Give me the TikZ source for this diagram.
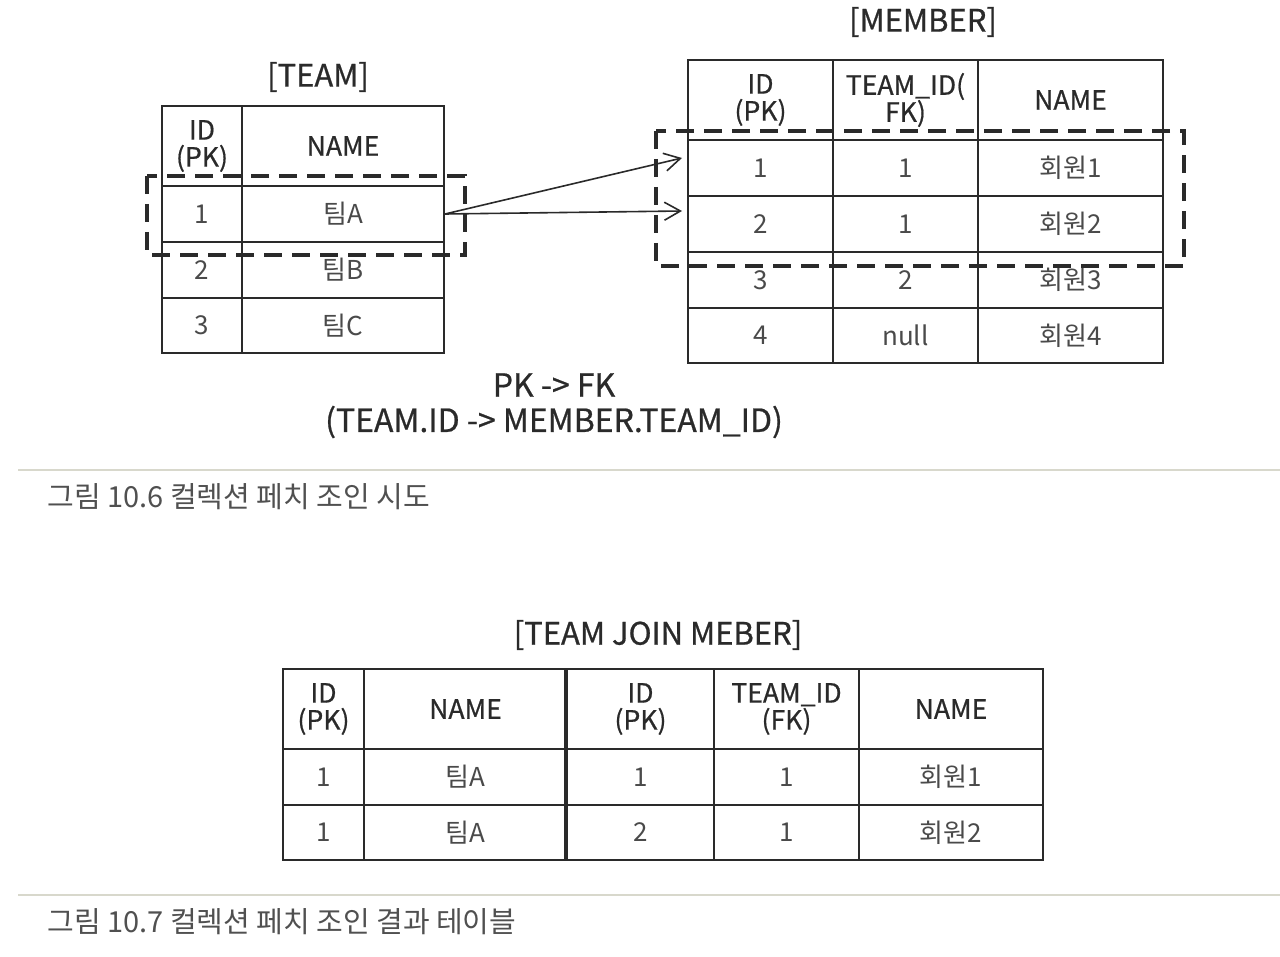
\documentclass[tikz,border=0pt]{standalone}
\usepackage{fontspec}
\setmainfont{Noto Sans CJK KR}
\newfontfamily\hfont{Noto Sans CJK KR}[UprightFeatures={FakeBold=0.7}]
\usetikzlibrary{arrows.meta,calc}
\definecolor{ink}{HTML}{2A2A2A}
\definecolor{val}{HTML}{4A4A4A}
\definecolor{rulec}{HTML}{D8D8CC}
\definecolor{capc}{HTML}{505050}
\begin{document}
\begin{tikzpicture}[x=0.5pt,y=-0.5pt,
 tcell/.style={draw=ink,line width=1pt,inner sep=0pt,align=center,text=val,font=\fontsize{13}{14}\selectfont},
 thdr/.style={tcell,text=ink,font=\hfont\fontsize{13.3}{13.5}\selectfont},
 ttitle/.style={text=ink,font=\hfont\fontsize{15.5}{17}\selectfont,inner sep=0pt},
 dashbox/.style={draw=ink,line width=2pt,dash pattern=on 9pt off 5pt},
 link/.style={draw=ink,line width=0.8pt,-{Straight Barb[length=8pt,width=9pt]}},
 capt/.style={anchor=west,text=capc,font=\fontsize{14.5}{16}\selectfont,inner sep=0pt},
 seprule/.style={draw=rulec,line width=0.8pt}]
\useasboundingbox (0,0) rectangle (1280,957);

% ---------- TEAM ----------
\node[ttitle] (tteam) at (318,77) {[TEAM]};
\node[thdr,minimum width=40pt,minimum height=40pt] (tid) at (202,146) {ID\\(PK)};
\node[thdr,minimum width=101pt,minimum height=40pt] (tname) at (343,146) {NAME};
\node[tcell,minimum width=40pt,minimum height=28pt] (t1id) at (202,214) {1};
\node[tcell,minimum width=101pt,minimum height=28pt] (t1name) at (343,214) {팀A};
\node[tcell,minimum width=40pt,minimum height=28pt] (t2id) at (202,270) {2};
\node[tcell,minimum width=101pt,minimum height=28pt] (t2name) at (343,270) {팀B};
\node[tcell,minimum width=40pt,minimum height=27.5pt] (t3id) at (202,325.5) {3};
\node[tcell,minimum width=101pt,minimum height=27.5pt] (t3name) at (343,325.5) {팀C};

% ---------- MEMBER ----------
\node[ttitle] (tmember) at (923,22) {[MEMBER]};
\node[thdr,minimum width=72.5pt,minimum height=40pt] (mid) at (760.5,100) {ID\\(PK)};
\node[thdr,minimum width=72.5pt,minimum height=40pt] (mtid) at (905.5,100) {TEAM\_ID(\\FK)};
\node[thdr,minimum width=92.5pt,minimum height=40pt] (mname) at (1070.5,100) {NAME};
\node[tcell,minimum width=72.5pt,minimum height=28pt] (m1id) at (760.5,168) {1};
\node[tcell,minimum width=72.5pt,minimum height=28pt] (m1t) at (905.5,168) {1};
\node[tcell,minimum width=92.5pt,minimum height=28pt] (m1n) at (1070.5,168) {회원1};
\node[tcell,minimum width=72.5pt,minimum height=28pt] (m2id) at (760.5,224) {2};
\node[tcell,minimum width=72.5pt,minimum height=28pt] (m2t) at (905.5,224) {1};
\node[tcell,minimum width=92.5pt,minimum height=28pt] (m2n) at (1070.5,224) {회원2};
\node[tcell,minimum width=72.5pt,minimum height=28pt] (m3id) at (760.5,280) {3};
\node[tcell,minimum width=72.5pt,minimum height=28pt] (m3t) at (905.5,280) {2};
\node[tcell,minimum width=92.5pt,minimum height=28pt] (m3n) at (1070.5,280) {회원3};
\node[tcell,minimum width=72.5pt,minimum height=27.5pt] (m4id) at (760.5,335.5) {4};
\node[tcell,minimum width=72.5pt,minimum height=27.5pt] (m4t) at (905.5,335.5) {null};
\node[tcell,minimum width=92.5pt,minimum height=27.5pt] (m4n) at (1070.5,335.5) {회원4};

% ---------- dashed selections ----------
\draw[dashbox] (147,176) rectangle (465,255);
\draw[dashbox] (656,131) rectangle (1184,266);

% ---------- arrows ----------
\draw[link] (t1name.east) -- ([xshift=-2.5pt,yshift=5pt]m1id.west);
\draw[link] (t1name.east) -- ([xshift=-2.5pt,yshift=6.5pt]m2id.west);

% ---------- relation text ----------
\node[ttitle,font=\hfont\fontsize{16}{17}\selectfont] (pkfk) at (554,385) {PK -> FK};
\node[ttitle,font=\hfont\fontsize{16}{17}\selectfont] (pkfk2) at (554,422) {(TEAM.ID -> MEMBER.TEAM\_ID)};

% ---------- caption 1 ----------
\draw[seprule] (18,470) -- (1280,470);
\node[capt] (cap1) at (47,497) {그림 10.6 컬렉션 페치 조인 시도};

% ---------- TEAM JOIN MEMBER ----------
\node[ttitle] (tjoin) at (658,635) {[TEAM JOIN MEBER]};
\node[thdr,minimum width=40.5pt,minimum height=40pt] (jtid) at (323.5,709) {ID\\(PK)};
\node[thdr,minimum width=101.5pt,minimum height=40pt] (jtname) at (465.5,709) {NAME};
\node[thdr,minimum width=73.5pt,minimum height=40pt] (jmid) at (640.5,709) {ID\\(PK)};
\node[thdr,minimum width=72.5pt,minimum height=40pt] (jmtid) at (786.5,709) {TEAM\_ID\\(FK)};
\node[thdr,minimum width=92pt,minimum height=40pt] (jmname) at (951,709) {NAME};
\node[tcell,minimum width=40.5pt,minimum height=28pt] (j1a) at (323.5,777) {1};
\node[tcell,minimum width=101.5pt,minimum height=28pt] (j1b) at (465.5,777) {팀A};
\node[tcell,minimum width=73.5pt,minimum height=28pt] (j1c) at (640.5,777) {1};
\node[tcell,minimum width=72.5pt,minimum height=28pt] (j1d) at (786.5,777) {1};
\node[tcell,minimum width=92pt,minimum height=28pt] (j1e) at (951,777) {회원1};
\node[tcell,minimum width=40.5pt,minimum height=27.5pt] (j2a) at (323.5,832.5) {1};
\node[tcell,minimum width=101.5pt,minimum height=27.5pt] (j2b) at (465.5,832.5) {팀A};
\node[tcell,minimum width=73.5pt,minimum height=27.5pt] (j2c) at (640.5,832.5) {2};
\node[tcell,minimum width=72.5pt,minimum height=27.5pt] (j2d) at (786.5,832.5) {1};
\node[tcell,minimum width=92pt,minimum height=27.5pt] (j2e) at (951,832.5) {회원2};
\draw[draw=ink,line width=1.6pt] (jmid.north west) -- (j2c.south west);

% ---------- caption 2 ----------
\draw[seprule] (18,895) -- (1280,895);
\node[capt] (cap2) at (47,922) {그림 10.7 컬렉션 페치 조인 결과 테이블};
\end{tikzpicture}
\end{document}
